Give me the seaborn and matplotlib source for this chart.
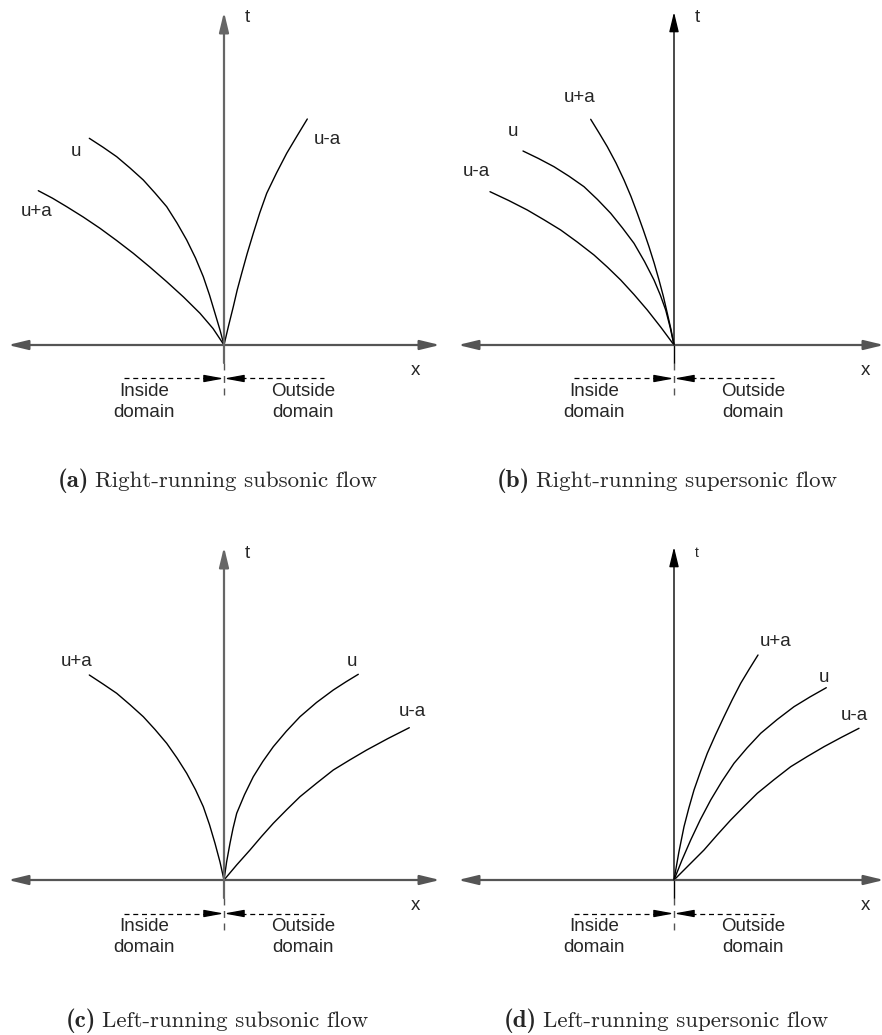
import matplotlib
matplotlib.use('Agg')
import matplotlib.pyplot as plt
import seaborn as sns

# characteristic curves:
# x = offset from the origin to the right, t = offset upwards (pixels)
a_upa_x = [-185.7, -171.5, -157.3, -140.8, -124.0, -107.5, -90.7, -74.2, -57.3, -40.5, -24.0, -11.0, 0]
a_upa_t = [154.3, 146.8, 138.3, 128.0, 116.7, 104.6, 91.7, 78.0, 63.3, 48.0, 31.7, 16.5, 0]
a_u_x = [-134.7, -121.0, -107.3, -94.0, -80.7, -69.0, -57.3, -47.0, -37.3, -28.5, -20.7, -14.5, -9.0, -4.0, 0]
a_u_t = [206.7, 197.8, 188.3, 177.0, 165.0, 152.0, 138.3, 122.0, 105.0, 87.0, 68.3, 50.0, 31.7, 15.0, 0]
a_uma_x = [83.3, 73.0, 62.7, 52.5, 42.7, 35.7, 29.3, 23.2, 17.7, 13.2, 9.3, 4.5, 0]
a_uma_t = [226.0, 209.0, 191.7, 172.0, 151.7, 132.0, 111.7, 91.5, 71.7, 55.0, 38.3, 19.0, 0]

b_upa_x = [-83.3, -75.0, -66.7, -58.0, -50.0, -43.0, -36.7, -30.7, -25.0, -19.8, -15.0, -10.6, -6.7, -3.0, 0]
b_upa_t = [225.7, 212.2, 198.3, 182.0, 165.0, 148.5, 131.7, 115.0, 98.3, 81.8, 65.0, 48.5, 31.7, 15.5, 0]
b_u_x = [-151.0, -135.5, -120.0, -105.0, -90.0, -76.5, -63.3, -51.5, -40.0, -29.5, -20.0, -13.7, -8.3, -3.8, 0]
b_u_t = [194.0, 186.5, 178.3, 168.8, 158.3, 145.5, 131.7, 117.0, 101.7, 83.5, 65.0, 50.0, 35.0, 17.5, 0]
b_uma_x = [-184.0, -165.3, -146.7, -130.0, -113.3, -96.5, -80.0, -66.5, -53.3, -40.0, -26.7, -13.2, 0]
b_uma_t = [153.3, 144.5, 135.0, 125.2, 115.0, 102.8, 90.0, 77.8, 65.0, 50.5, 35.0, 17.8, 0]

c_upa_x = [-134.7, -121.0, -107.3, -94.0, -80.7, -69.0, -57.3, -47.0, -37.3, -28.5, -20.7, -14.5, -9.0, -4.0, 0]
c_upa_t = [205.0, 196.0, 186.7, 175.3, 163.3, 150.5, 136.7, 122.0, 106.7, 90.3, 73.3, 55.3, 36.7, 18.0, 0]
c_u_x = [134.3, 122.0, 109.3, 92.5, 76.0, 62.3, 49.3, 38.8, 29.3, 20.5, 12.7, 9.0, 6.0, 2.6, 0]
c_u_t = [205.7, 198.2, 190.0, 177.5, 163.3, 148.7, 133.3, 118.5, 103.3, 85.3, 66.7, 51.5, 36.7, 18.0, 0]
c_uma_x = [185.3, 164.0, 142.7, 126.0, 109.3, 92.6, 76.0, 62.6, 49.3, 37.5, 26.0, 12.8, 0]
c_uma_t = [152.3, 141.5, 130.0, 120.2, 110.0, 96.8, 83.3, 70.2, 56.7, 43.5, 30.0, 15.2, 0]

d_upa_x = [84.0, 75.3, 66.7, 58.2, 50.0, 41.5, 33.3, 26.5, 20.0, 14.8, 10.0, 4.8, 0]
d_upa_t = [225.0, 211.0, 196.7, 180.2, 163.3, 145.2, 126.7, 108.5, 90.0, 71.8, 53.3, 27.5, 0]
d_u_x = [152.3, 136.2, 120.0, 103.2, 86.7, 73.0, 60.0, 48.0, 36.7, 26.3, 16.7, 8.0, 0]
d_u_t = [192.3, 183.2, 173.3, 160.5, 146.7, 132.0, 116.7, 98.8, 80.0, 60.3, 40.0, 20.0, 0]
d_uma_x = [185.0, 167.5, 150.0, 133.3, 116.7, 100.0, 83.3, 70.0, 56.7, 43.3, 30.0, 15.0, 0]
d_uma_t = [151.7, 142.7, 133.3, 123.5, 113.3, 100.3, 86.7, 73.5, 60.0, 45.2, 30.0, 15.0, 0]

captions_bold = ['(a)', '(b)', '(c)', '(d)']
captions_text = ['Right-running subsonic flow', 'Right-running supersonic flow',
                 'Left-running subsonic flow', 'Left-running supersonic flow']

W, H = 882, 1035
sns.set_theme(style='white')
plt.rcParams['font.family'] = ['Liberation Sans', 'DejaVu Sans']
FS = 13.5

fig = plt.figure(figsize=(W / 100, H / 100), dpi=100)

# panel boxes in pixels: left, top, width, height; origin of the x-t axes
panels = [
    dict(box=(0, 0, 441, 450), org=(224, 345), vcol='#666666', vlw=1.6, hr=216,
         curves=[(a_upa_x, a_upa_t, 'u+a', (-187, 133)),
                 (a_u_x, a_u_t, 'u', (-148, 194)),
                 (a_uma_x, a_uma_t, 'u-a', (103, 206))],
         tsize=FS, cap=(95, 487)),
    dict(box=(441, 0, 441, 450), org=(674, 345), vcol='black', vlw=1.0, hr=210,
         curves=[(b_upa_x, b_upa_t, 'u+a', (-94, 248)),
                 (b_u_x, b_u_t, 'u', (-161, 214)),
                 (b_uma_x, b_uma_t, 'u-a', (-198, 173))],
         tsize=FS, cap=(536, 487)),
    dict(box=(0, 520, 441, 470), org=(224, 880), vcol='#666666', vlw=1.6, hr=216,
         curves=[(c_upa_x, c_upa_t, 'u+a', (-147, 218)),
                 (c_u_x, c_u_t, 'u', (128, 218)),
                 (c_uma_x, c_uma_t, 'u-a', (188, 169))],
         tsize=FS, cap=(102, 1027)),
    dict(box=(441, 520, 441, 470), org=(674, 880), vcol='black', vlw=1.0, hr=210,
         curves=[(d_upa_x, d_upa_t, 'u+a', (102, 238)),
                 (d_u_x, d_u_t, 'u', (150, 203)),
                 (d_uma_x, d_uma_t, 'u-a', (180, 165))],
         tsize=10, cap=(543, 1027)),
]


def arrow(ax, p0, p1, color, lw, hl, hw, both=False):
    style = ('<|-|>' if both else '-|>') + f',head_length={hl},head_width={hw}'
    ax.annotate('', xy=p1, xytext=p0, annotation_clip=False,
                arrowprops=dict(arrowstyle=style, color=color, lw=lw,
                                shrinkA=0, shrinkB=0, mutation_scale=1))


for i, p in enumerate(panels):
    left, top, w, h = p['box']
    ox, oy = p['org']
    ax = fig.add_axes([left / W, 1 - (top + h) / H, w / W, h / H])
    ax.set_xlim(left - ox, left + w - ox)
    ax.set_ylim(oy - (top + h), oy - top)
    ax.set_axis_off()

    # x and t axes
    arrow(ax, (-216, 0), (p['hr'], 0), '#555555', 1.6, 12, 2.9, both=True)
    arrow(ax, (0, 0), (0, 333), p['vcol'], p['vlw'], 12, 2.9)
    ax.plot([0, 0], [0, -18], color=p['vcol'], lw=p['vlw'], clip_on=False)
    ax.plot([0, 0], [-18, -51], color='#555555', lw=1.0, ls=(0, (5, 4)), clip_on=False)
    ax.text(23, 327, 't', fontsize=p['tsize'], ha='center', va='center')
    ax.text(191, -26, 'x', fontsize=FS, ha='center', va='center')

    # inside / outside domain markers
    ax.plot([-100, -17], [-33.5, -33.5], color='black', lw=0.9, ls=(0, (4, 3)))
    ax.plot([17, 100], [-33.5, -33.5], color='black', lw=0.9, ls=(0, (4, 3)))
    arrow(ax, (-18, -33.5), (0, -33.5), 'black', 0.9, 12, 2.2)
    arrow(ax, (18, -33.5), (0, -33.5), 'black', 0.9, 12, 2.2)
    ax.text(-80, -57, 'Inside\ndomain', fontsize=FS, ha='center', va='center',
            linespacing=1.25)
    ax.text(79, -57, 'Outside\ndomain', fontsize=FS, ha='center', va='center',
            linespacing=1.25)

    # characteristics
    for cx, ct, name, lab in p['curves']:
        sns.lineplot(x=cx, y=ct, ax=ax, color='black', lw=1.0, sort=False,
                     estimator=None)
        ax.text(lab[0], lab[1], name, fontsize=FS, ha='center', va='center')

    tx, by = p['cap']
    fig.text((tx - 6) / W, 1 - by / H, captions_bold[i], fontfamily='cmb10',
             fontsize=18, ha='right', va='baseline')
    fig.text(tx / W, 1 - by / H, captions_text[i], fontfamily='cmr10',
             fontsize=16.5, ha='left', va='baseline')

fig.savefig('out.png', dpi=100)
